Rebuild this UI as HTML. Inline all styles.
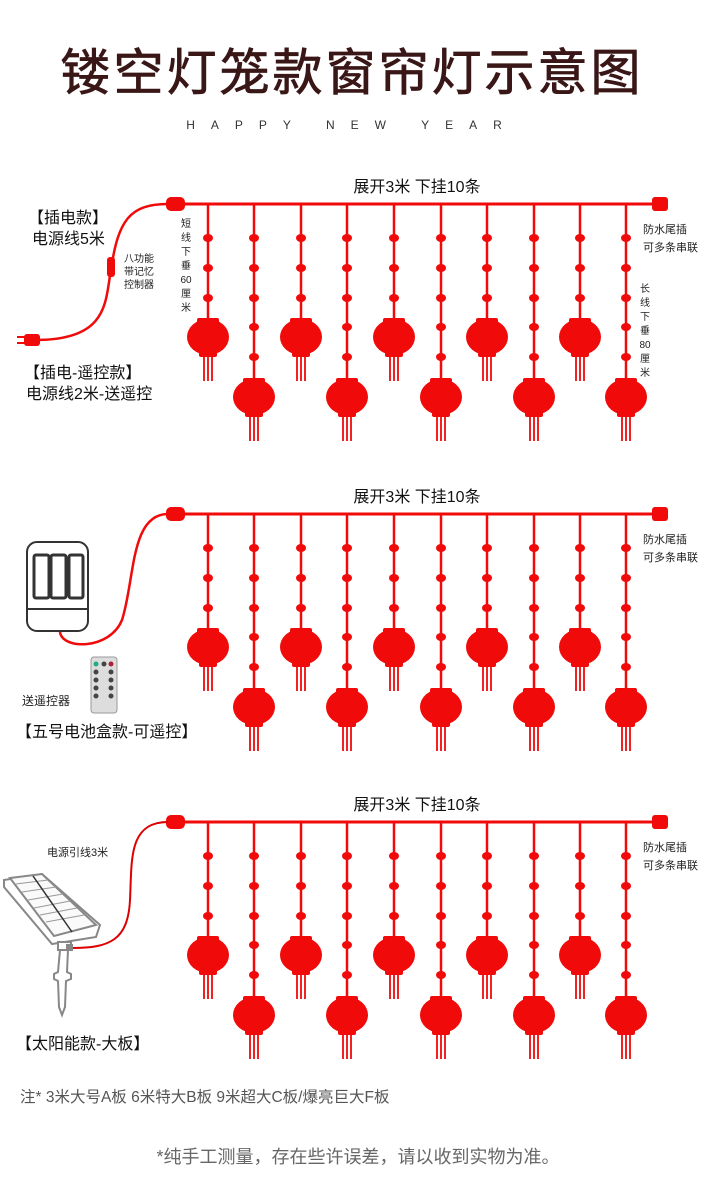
<!DOCTYPE html>
<html><head><meta charset="utf-8"><style>
html,body{margin:0;padding:0;background:#fff}
svg{display:block}
text{font-family:"Liberation Sans","Noto Sans CJK SC",sans-serif}
</style></head><body>
<svg width="716" height="1200" viewBox="0 0 716 1200" xmlns="http://www.w3.org/2000/svg">
<defs>
<g id="lan">
 <rect x="-11" y="-19" width="22" height="7" rx="2" fill="#f00a0a"/>
 <ellipse cx="0" cy="0" rx="21" ry="18" fill="#f00a0a"/>
 <rect x="-9" y="13" width="18" height="7" rx="2" fill="#f00a0a"/>
 <g stroke="#f00a0a" stroke-width="1.8"><line x1="-4" y1="18" x2="-4" y2="44"/><line x1="0" y1="18" x2="0" y2="44"/><line x1="4" y1="18" x2="4" y2="44"/></g>
</g>
<g id="s">
 <line x1="0" y1="0" x2="0" y2="118" stroke="#f00a0a" stroke-width="2.5"/>
 <ellipse cx="0" cy="34" rx="5" ry="4" fill="#f00a0a"/><ellipse cx="0" cy="64" rx="5" ry="4" fill="#f00a0a"/><ellipse cx="0" cy="94" rx="5" ry="4" fill="#f00a0a"/>
 <use href="#lan" y="133"/>
</g>
<g id="l">
 <line x1="0" y1="0" x2="0" y2="178" stroke="#f00a0a" stroke-width="2.5"/>
 <ellipse cx="0" cy="34" rx="5" ry="4" fill="#f00a0a"/><ellipse cx="0" cy="64" rx="5" ry="4" fill="#f00a0a"/><ellipse cx="0" cy="94" rx="5" ry="4" fill="#f00a0a"/><ellipse cx="0" cy="123" rx="5" ry="4" fill="#f00a0a"/><ellipse cx="0" cy="153" rx="5" ry="4" fill="#f00a0a"/>
 <use href="#lan" y="193"/>
</g>
<g id="cur">
 <line x1="176" y1="0" x2="660" y2="0" stroke="#f00a0a" stroke-width="3"/>
 <rect x="166" y="-7" width="19" height="14" rx="5" fill="#f00a0a"/>
 <rect x="652" y="-7" width="16" height="14" rx="3" fill="#f00a0a"/>
 <use href="#s" x="208"/><use href="#l" x="254"/><use href="#s" x="301"/><use href="#l" x="347"/><use href="#s" x="394"/><use href="#l" x="441"/><use href="#s" x="487"/><use href="#l" x="534"/><use href="#s" x="580"/><use href="#l" x="626"/>
 <text x="417" y="-12" font-size="16" text-anchor="middle" fill="#111">展开3米  下挂10条</text>
 <text x="643" y="29" font-size="11" fill="#222">防水尾插</text>
 <text x="643" y="47" font-size="11" fill="#222">可多条串联</text>
</g>
</defs>

<text x="352" y="90" font-size="50" text-anchor="middle" fill="#3a1717" stroke="#3a1717" stroke-width="0.8" letter-spacing="3">镂空灯笼款窗帘灯示意图</text>
<text x="352" y="129" font-size="12" text-anchor="middle" fill="#333" letter-spacing="16">HAPPY   NEW   YEAR</text>

<!-- section 1 -->
<use href="#cur" y="204"/>
<path d="M36 340 C110 340 105 300 111 270 C118 220 130 204 168 204" fill="none" stroke="#f00a0a" stroke-width="2.5"/>
<rect x="107" y="257" width="8" height="20" rx="3" fill="#f00a0a"/>
<rect x="24" y="334" width="16" height="12" rx="3" fill="#f00a0a"/>
<line x1="17" y1="337" x2="25" y2="337" stroke="#f00a0a" stroke-width="2"/><line x1="17" y1="343" x2="25" y2="343" stroke="#f00a0a" stroke-width="2"/>
<text x="28" y="223" font-size="16" fill="#111">【插电款】</text>
<text x="32" y="244" font-size="16" fill="#111">电源线5米</text>
<g font-size="10" fill="#222"><text x="124" y="262">八功能</text><text x="124" y="275">带记忆</text><text x="124" y="288">控制器</text></g>
<g font-size="10" fill="#222" text-anchor="middle"><text x="186" y="227">短</text><text x="186" y="241">线</text><text x="186" y="255">下</text><text x="186" y="269">垂</text><text x="186" y="283">60</text><text x="186" y="297">厘</text><text x="186" y="311">米</text></g>
<g font-size="10" fill="#222" text-anchor="middle"><text x="645" y="292">长</text><text x="645" y="306">线</text><text x="645" y="320">下</text><text x="645" y="334">垂</text><text x="645" y="348">80</text><text x="645" y="362">厘</text><text x="645" y="376">米</text></g>
<text x="24" y="378" font-size="16" fill="#111">【插电-遥控款】</text>
<text x="26" y="399" font-size="16" fill="#111">电源线2米-送遥控</text>

<!-- section 2 -->
<use href="#cur" y="514"/>
<path d="M60 632 C62 650 110 650 122 620 C135 580 130 514 168 514" fill="none" stroke="#f00a0a" stroke-width="2.5"/>
<rect x="27" y="542" width="61" height="89" rx="10" fill="#fff" stroke="#333" stroke-width="2"/>
<line x1="27" y1="609" x2="88" y2="609" stroke="#333" stroke-width="2"/>
<g fill="#fff" stroke="#333" stroke-width="3"><rect x="34" y="555" width="15" height="43" rx="2"/><rect x="51" y="555" width="15" height="43" rx="2"/><rect x="69" y="555" width="14" height="43" rx="2"/></g>
<rect x="91" y="657" width="26" height="56" rx="3" fill="#ddd" stroke="#999"/>
<g fill="#444"><circle cx="96" cy="664" r="2.5" fill="#2a8"/><circle cx="104" cy="664" r="2.5"/><circle cx="111" cy="664" r="2.5" fill="#a23"/><circle cx="96" cy="672" r="2.5"/><circle cx="111" cy="672" r="2.5"/><circle cx="96" cy="680" r="2.5"/><circle cx="111" cy="680" r="2.5"/><circle cx="96" cy="688" r="2.5"/><circle cx="111" cy="688" r="2.5"/><circle cx="96" cy="696" r="2.5"/><circle cx="111" cy="696" r="2.5"/></g>
<text x="22" y="705" font-size="12" fill="#222">送遥控器</text>
<text x="16" y="737" font-size="16" fill="#111">【五号电池盒款-可遥控】</text>

<!-- section 3 -->
<use href="#cur" y="822"/>
<path d="M72 948 C110 948 128 940 130 900 C132 860 128 822 168 822" fill="none" stroke="#d00" stroke-width="2"/>
<text x="47" y="856" font-size="11" fill="#222">电源引线3米</text>
<g fill="#fff" stroke="#888" stroke-width="2">
<path d="M4 880 L42 874 L100 925 L96 937 L52 944 L4 887 Z"/>
<path d="M10 878 L42 874 L96 925 L54 936 Z" fill="#fafafa"/>
<rect x="58" y="942" width="13" height="8"/>
<path d="M60 950 L68 950 L67 972 L71 974 L71 979 L66 981 L65 1007 L62 1015 L59 1007 L58 981 L54 979 L54 974 L58 972 Z"/>
</g>
<g stroke="#999" stroke-width="1"><line x1="16" y1="884" x2="48" y2="880"/><line x1="22" y1="892" x2="56" y2="887"/><line x1="28" y1="900" x2="63" y2="894"/><line x1="34" y1="908" x2="70" y2="901"/><line x1="40" y1="915" x2="77" y2="908"/><line x1="46" y1="922" x2="84" y2="915"/></g>
<line x1="33" y1="876" x2="72" y2="932" stroke="#333" stroke-width="1.5"/>
<rect x="66" y="944" width="7" height="7" fill="#888"/>
<text x="16" y="1049" font-size="16" fill="#111">【太阳能款-大板】</text>

<text x="20" y="1102" font-size="15.5" fill="#555">注* 3米大号A板  6米特大B板  9米超大C板/爆亮巨大F板</text>
<text x="358" y="1163" font-size="18" text-anchor="middle" fill="#666">*纯手工测量，存在些许误差，请以收到实物为准。</text>
</svg>
</body></html>
